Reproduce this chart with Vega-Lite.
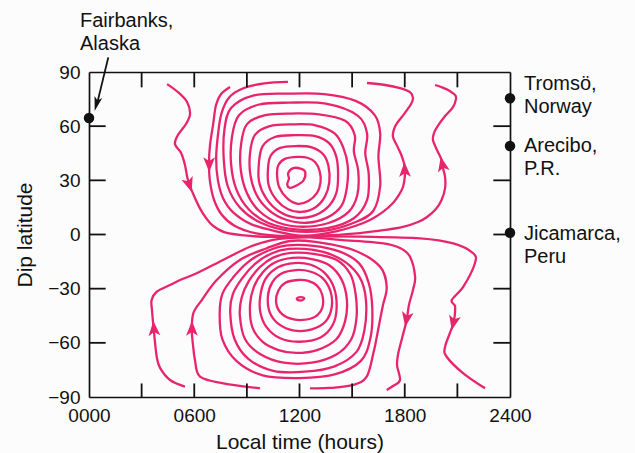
{
  "$schema": "https://vega.github.io/schema/vega-lite/v6.json",
  "width": 421,
  "height": 325,
  "autosize": {"type": "none"},
  "padding": {"left": 89, "top": 72, "right": 125, "bottom": 56},
  "background": "#fcfcfd",
  "config": {
    "view": {"stroke": null},
    "font": "Liberation Sans",
    "axis": {
      "grid": false,
      "domainColor": "#111111",
      "domainWidth": 1.7,
      "tickColor": "#111111",
      "tickWidth": 1.7,
      "labelColor": "#111111",
      "titleColor": "#111111",
      "labelFont": "Liberation Sans",
      "titleFont": "Liberation Sans",
      "labelFontSize": 19,
      "titleFontSize": 21,
      "titleFontWeight": "normal",
      "labelFlush": false,
      "labelOverlap": false
    }
  },
  "datasets": {
    "rings": [
      {"c":"n1","x":11.65,"y":36.8},{"c":"n1","x":12.1,"y":36.3},{"c":"n1","x":12.33,"y":34.5},{"c":"n1","x":12.22,"y":29.8},{"c":"n1","x":11.8,"y":27},{"c":"n1","x":11.46,"y":25.8},{"c":"n1","x":11.3,"y":27.8},{"c":"n1","x":11.4,"y":31},{"c":"n1","x":11.35,"y":34},
      {"c":"n2","x":11.9,"y":43},{"c":"n2","x":11.2,"y":42},{"c":"n2","x":10.8,"y":38.5},{"c":"n2","x":10.72,"y":33},{"c":"n2","x":10.85,"y":26},{"c":"n2","x":11.3,"y":20},{"c":"n2","x":11.9,"y":17},{"c":"n2","x":12.5,"y":18.5},{"c":"n2","x":13.0,"y":23},{"c":"n2","x":13.2,"y":29},{"c":"n2","x":13.15,"y":35},{"c":"n2","x":12.9,"y":40},{"c":"n2","x":12.45,"y":42.5},
      {"c":"n3","x":11.8,"y":49},{"c":"n3","x":10.9,"y":48},{"c":"n3","x":10.35,"y":43.5},{"c":"n3","x":10.2,"y":36},{"c":"n3","x":10.25,"y":27},{"c":"n3","x":10.7,"y":19},{"c":"n3","x":11.35,"y":14},{"c":"n3","x":12.1,"y":12.5},{"c":"n3","x":12.9,"y":15},{"c":"n3","x":13.45,"y":21},{"c":"n3","x":13.7,"y":29},{"c":"n3","x":13.65,"y":38},{"c":"n3","x":13.35,"y":44.5},{"c":"n3","x":12.7,"y":48.3},
      {"c":"n4","x":11.7,"y":55},{"c":"n4","x":10.6,"y":54},{"c":"n4","x":9.9,"y":49},{"c":"n4","x":9.69,"y":40},{"c":"n4","x":9.7,"y":29},{"c":"n4","x":10.1,"y":20},{"c":"n4","x":10.8,"y":13},{"c":"n4","x":11.7,"y":9.5},{"c":"n4","x":12.7,"y":10},{"c":"n4","x":13.6,"y":15},{"c":"n4","x":14.1,"y":23},{"c":"n4","x":14.2,"y":33},{"c":"n4","x":14.1,"y":43},{"c":"n4","x":13.7,"y":50.5},{"c":"n4","x":12.9,"y":54.5},
      {"c":"n5","x":11.6,"y":61},{"c":"n5","x":10.3,"y":60},{"c":"n5","x":9.45,"y":55},{"c":"n5","x":9.18,"y":45},{"c":"n5","x":9.2,"y":33},{"c":"n5","x":9.55,"y":22},{"c":"n5","x":10.25,"y":13.5},{"c":"n5","x":11.2,"y":8.3},{"c":"n5","x":12.4,"y":6.5},{"c":"n5","x":13.6,"y":9.5},{"c":"n5","x":14.4,"y":16},{"c":"n5","x":14.7,"y":26},{"c":"n5","x":14.75,"y":38},{"c":"n5","x":14.5,"y":48},{"c":"n5","x":14.0,"y":56},{"c":"n5","x":12.9,"y":60.5},
      {"c":"n6","x":11.5,"y":67},{"c":"n6","x":10.0,"y":66},{"c":"n6","x":9.0,"y":61},{"c":"n6","x":8.67,"y":50},{"c":"n6","x":8.65,"y":36},{"c":"n6","x":9.0,"y":23},{"c":"n6","x":9.7,"y":13},{"c":"n6","x":10.8,"y":6.5},{"c":"n6","x":12.2,"y":4.3},{"c":"n6","x":13.7,"y":6.5},{"c":"n6","x":14.8,"y":12.5},{"c":"n6","x":15.3,"y":22},{"c":"n6","x":15.35,"y":35},{"c":"n6","x":15.1,"y":46},{"c":"n6","x":15.15,"y":55},{"c":"n6","x":14.6,"y":63},{"c":"n6","x":13.1,"y":66.5},
      {"c":"n7","x":11.4,"y":73},{"c":"n7","x":9.7,"y":72},{"c":"n7","x":8.55,"y":66},{"c":"n7","x":8.15,"y":54},{"c":"n7","x":8.1,"y":39},{"c":"n7","x":8.4,"y":25},{"c":"n7","x":9.1,"y":14},{"c":"n7","x":10.2,"y":6.5},{"c":"n7","x":11.8,"y":2.8},{"c":"n7","x":13.6,"y":3.5},{"c":"n7","x":15.1,"y":9},{"c":"n7","x":15.85,"y":19},{"c":"n7","x":15.95,"y":33},{"c":"n7","x":15.75,"y":45},{"c":"n7","x":15.85,"y":56},{"c":"n7","x":15.3,"y":66},{"c":"n7","x":13.5,"y":72.5},
      {"c":"n8","x":11.3,"y":78},{"c":"n8","x":9.4,"y":77},{"c":"n8","x":8.1,"y":70},{"c":"n8","x":7.72,"y":58},{"c":"n8","x":7.68,"y":42},{"c":"n8","x":7.9,"y":27},{"c":"n8","x":8.6,"y":15},{"c":"n8","x":9.8,"y":6.5},{"c":"n8","x":11.5,"y":2},{"c":"n8","x":13.5,"y":2.2},{"c":"n8","x":15.1,"y":6.5},{"c":"n8","x":16.2,"y":13},{"c":"n8","x":16.6,"y":27},{"c":"n8","x":16.5,"y":43},{"c":"n8","x":16.6,"y":56},{"c":"n8","x":16.3,"y":66},{"c":"n8","x":15.2,"y":74},{"c":"n8","x":13.4,"y":77.8},
      {"c":"s1","x":11.85,"y":-35.4},{"c":"s1","x":12.05,"y":-34.7},{"c":"s1","x":12.27,"y":-35.2},{"c":"s1","x":12.15,"y":-36.4},{"c":"s1","x":11.92,"y":-36.3},
      {"c":"s2","x":11.9,"y":-25.2},{"c":"s2","x":11.2,"y":-26.7},{"c":"s2","x":10.8,"y":-31},{"c":"s2","x":10.66,"y":-37},{"c":"s2","x":10.9,"y":-43},{"c":"s2","x":11.5,"y":-46.6},{"c":"s2","x":12.2,"y":-47.3},{"c":"s2","x":12.9,"y":-45.5},{"c":"s2","x":13.3,"y":-40.5},{"c":"s2","x":13.3,"y":-33.5},{"c":"s2","x":13.0,"y":-28.3},{"c":"s2","x":12.5,"y":-25.7},
      {"c":"s3","x":11.8,"y":-19.7},{"c":"s3","x":11.0,"y":-21.5},{"c":"s3","x":10.45,"y":-26.5},{"c":"s3","x":10.2,"y":-34},{"c":"s3","x":10.3,"y":-43},{"c":"s3","x":10.8,"y":-49.5},{"c":"s3","x":11.7,"y":-53.2},{"c":"s3","x":12.7,"y":-52.5},{"c":"s3","x":13.5,"y":-48},{"c":"s3","x":13.84,"y":-40},{"c":"s3","x":13.75,"y":-31},{"c":"s3","x":13.3,"y":-24},{"c":"s3","x":12.6,"y":-20.5},
      {"c":"s4","x":11.7,"y":-15.8},{"c":"s4","x":10.8,"y":-18},{"c":"s4","x":10.1,"y":-24},{"c":"s4","x":9.8,"y":-32},{"c":"s4","x":9.75,"y":-42},{"c":"s4","x":10.1,"y":-51},{"c":"s4","x":10.9,"y":-57.5},{"c":"s4","x":12.0,"y":-59.4},{"c":"s4","x":13.2,"y":-57},{"c":"s4","x":13.9,"y":-50},{"c":"s4","x":14.12,"y":-40},{"c":"s4","x":13.95,"y":-29},{"c":"s4","x":13.4,"y":-21},{"c":"s4","x":12.6,"y":-16.6},
      {"c":"s5","x":11.6,"y":-13},{"c":"s5","x":10.6,"y":-15.5},{"c":"s5","x":9.9,"y":-21},{"c":"s5","x":9.4,"y":-29},{"c":"s5","x":9.18,"y":-39},{"c":"s5","x":9.3,"y":-51},{"c":"s5","x":9.9,"y":-59.5},{"c":"s5","x":10.8,"y":-64},{"c":"s5","x":11.8,"y":-65.6},{"c":"s5","x":13.0,"y":-64},{"c":"s5","x":14.1,"y":-58},{"c":"s5","x":14.6,"y":-48},{"c":"s5","x":14.7,"y":-36},{"c":"s5","x":14.4,"y":-25},{"c":"s5","x":13.7,"y":-17},{"c":"s5","x":12.7,"y":-13.6},
      {"c":"s6","x":11.5,"y":-10.2},{"c":"s6","x":10.5,"y":-12.8},{"c":"s6","x":9.75,"y":-18},{"c":"s6","x":9.1,"y":-26},{"c":"s6","x":8.7,"y":-35},{"c":"s6","x":8.6,"y":-45},{"c":"s6","x":8.9,"y":-58},{"c":"s6","x":9.8,"y":-66.5},{"c":"s6","x":11.1,"y":-71},{"c":"s6","x":12.7,"y":-71},{"c":"s6","x":14.1,"y":-66.5},{"c":"s6","x":14.95,"y":-58},{"c":"s6","x":15.25,"y":-46},{"c":"s6","x":15.2,"y":-33},{"c":"s6","x":14.9,"y":-22},{"c":"s6","x":14.1,"y":-14},{"c":"s6","x":12.8,"y":-10.7},
      {"c":"s7","x":11.4,"y":-8},{"c":"s7","x":10.4,"y":-10.5},{"c":"s7","x":9.5,"y":-16},{"c":"s7","x":8.75,"y":-24},{"c":"s7","x":8.2,"y":-33},{"c":"s7","x":8.05,"y":-43},{"c":"s7","x":8.3,"y":-58},{"c":"s7","x":9.1,"y":-69},{"c":"s7","x":10.5,"y":-75.5},{"c":"s7","x":12.3,"y":-76},{"c":"s7","x":14.0,"y":-73},{"c":"s7","x":15.25,"y":-65},{"c":"s7","x":15.7,"y":-53},{"c":"s7","x":15.8,"y":-38},{"c":"s7","x":15.55,"y":-26},{"c":"s7","x":14.9,"y":-17.5},{"c":"s7","x":13.9,"y":-11.5},{"c":"s7","x":12.7,"y":-8.4},
      {"c":"s8","x":11.3,"y":-6},{"c":"s8","x":10.2,"y":-9},{"c":"s8","x":9.1,"y":-15},{"c":"s8","x":8.2,"y":-24},{"c":"s8","x":7.6,"y":-33},{"c":"s8","x":7.45,"y":-44},{"c":"s8","x":7.6,"y":-58},{"c":"s8","x":8.4,"y":-70},{"c":"s8","x":9.9,"y":-78},{"c":"s8","x":12.0,"y":-79.5},{"c":"s8","x":14.0,"y":-77.5},{"c":"s8","x":15.5,"y":-70},{"c":"s8","x":16.05,"y":-57},{"c":"s8","x":16.15,"y":-41},{"c":"s8","x":15.95,"y":-27},{"c":"s8","x":15.4,"y":-16},{"c":"s8","x":14.3,"y":-9.5},{"c":"s8","x":12.8,"y":-6.3}
    ],
    "curves": [
      {"c":"a","x":4.45,"y":83.3},{"c":"a","x":5.07,"y":78.9},{"c":"a","x":5.59,"y":73.4},{"c":"a","x":5.76,"y":66.7},{"c":"a","x":5.53,"y":61.2},{"c":"a","x":5.07,"y":55.1},{"c":"a","x":4.9,"y":50.1},{"c":"a","x":5.25,"y":45.1},{"c":"a","x":5.47,"y":38.5},{"c":"a","x":5.64,"y":30.2},{"c":"a","x":5.99,"y":21.3},{"c":"a","x":6.44,"y":12.5},{"c":"a","x":7.01,"y":5.3},{"c":"a","x":7.75,"y":1.2},{"c":"a","x":9.18,"y":-0.8},{"c":"a","x":10.6,"y":-1.3},{"c":"a","x":12.6,"y":-1.0},{"c":"a","x":15.5,"y":-1.2},{"c":"a","x":18.87,"y":-2.1},{"c":"a","x":20.77,"y":-4.9},{"c":"a","x":21.9,"y":-10.4},{"c":"a","x":22.0,"y":-15.9},{"c":"a","x":21.34,"y":-28.9},{"c":"a","x":20.68,"y":-36.3},{"c":"a","x":20.87,"y":-40},{"c":"a","x":20.77,"y":-49.2},{"c":"a","x":20.3,"y":-62.1},{"c":"a","x":20.39,"y":-67.7},{"c":"a","x":21.34,"y":-76.9},{"c":"a","x":22.58,"y":-85.2},
      {"c":"b","x":8.04,"y":81.7},{"c":"b","x":7.53,"y":77.8},{"c":"b","x":7.24,"y":71.7},{"c":"b","x":7.07,"y":60.6},{"c":"b","x":6.9,"y":49.6},{"c":"b","x":6.84,"y":39.6},{"c":"b","x":6.9,"y":29.1},{"c":"b","x":7.13,"y":19.1},{"c":"b","x":7.58,"y":10.8},{"c":"b","x":8.32,"y":4.7},{"c":"b","x":9.46,"y":0.8},{"c":"b","x":11.17,"y":-0.9},{"c":"b","x":12.6,"y":-0.8},{"c":"b","x":13.74,"y":-0.4},{"c":"b","x":15.45,"y":0.8},{"c":"b","x":16.88,"y":2.5},{"c":"b","x":17.9,"y":4.2},{"c":"b","x":18.76,"y":6.9},{"c":"b","x":19.27,"y":9.7},{"c":"b","x":19.78,"y":14.1},{"c":"b","x":20.1,"y":19.1},{"c":"b","x":20.3,"y":25.7},{"c":"b","x":20.3,"y":31.8},{"c":"b","x":20.18,"y":36.8},{"c":"b","x":20.1,"y":41.3},{"c":"b","x":19.84,"y":46.8},{"c":"b","x":19.61,"y":52.3},{"c":"b","x":19.67,"y":56.2},{"c":"b","x":19.84,"y":59.5},{"c":"b","x":20.3,"y":65.6},{"c":"b","x":20.75,"y":70.6},{"c":"b","x":20.92,"y":75},{"c":"b","x":20.87,"y":77.2},{"c":"b","x":20.47,"y":80},{"c":"b","x":20.07,"y":81.7},{"c":"b","x":19.73,"y":82.8},
      {"c":"c","x":11.34,"y":84.5},{"c":"c","x":10.0,"y":83.7},{"c":"c","x":8.8,"y":81},{"c":"c","x":8.0,"y":76},{"c":"c","x":7.55,"y":67},{"c":"c","x":7.35,"y":55},{"c":"c","x":7.25,"y":42},{"c":"c","x":7.35,"y":30},{"c":"c","x":7.65,"y":20},{"c":"c","x":8.25,"y":12},{"c":"c","x":9.3,"y":5.5},{"c":"c","x":10.8,"y":1.5},{"c":"c","x":12.03,"y":-0.6},{"c":"c","x":12.88,"y":-0.3},{"c":"c","x":14.14,"y":1.9},{"c":"c","x":15.17,"y":4.7},{"c":"c","x":16.02,"y":8},{"c":"c","x":16.76,"y":12.5},{"c":"c","x":17.33,"y":17.4},{"c":"c","x":17.67,"y":21.9},{"c":"c","x":17.9,"y":26.3},{"c":"c","x":18.0,"y":31.8},{"c":"c","x":18.0,"y":37.4},{"c":"c","x":17.85,"y":42.9},{"c":"c","x":17.6,"y":48.4},{"c":"c","x":17.33,"y":54},{"c":"c","x":17.39,"y":58.4},{"c":"c","x":17.56,"y":61.7},{"c":"c","x":17.96,"y":66.7},{"c":"c","x":18.36,"y":72.3},{"c":"c","x":18.47,"y":75.6},{"c":"c","x":18.3,"y":78.9},{"c":"c","x":17.73,"y":81.1},{"c":"c","x":16.88,"y":82.8},{"c":"c","x":15.85,"y":83.9},
      {"c":"d","x":5.47,"y":-84.3},{"c":"d","x":4.62,"y":-80.6},{"c":"d","x":4.05,"y":-73.9},{"c":"d","x":3.86,"y":-67.7},{"c":"d","x":3.71,"y":-54.5},{"c":"d","x":3.59,"y":-41.8},{"c":"d","x":3.57,"y":-36.3},{"c":"d","x":3.86,"y":-31.7},{"c":"d","x":4.62,"y":-28},{"c":"d","x":5.19,"y":-25.2},{"c":"d","x":6.14,"y":-21.5},{"c":"d","x":7.64,"y":-14.1},{"c":"d","x":9.18,"y":-6.8},{"c":"d","x":10.49,"y":-3},{"c":"d","x":11.46,"y":-1.9},{"c":"d","x":12.6,"y":-1.6},{"c":"d","x":14.3,"y":-3},{"c":"d","x":16.78,"y":-4.9},{"c":"d","x":17.73,"y":-7.5},{"c":"d","x":18.3,"y":-12.3},{"c":"d","x":18.59,"y":-23.4},{"c":"d","x":18.47,"y":-30.7},{"c":"d","x":18.24,"y":-39},{"c":"d","x":18.11,"y":-47.3},{"c":"d","x":17.85,"y":-57.3},{"c":"d","x":17.63,"y":-65.8},{"c":"d","x":17.56,"y":-72.3},{"c":"d","x":17.73,"y":-80.6},{"c":"d","x":17.33,"y":-83.9},{"c":"d","x":16.97,"y":-86.1},
      {"c":"e","x":9.75,"y":-85.2},{"c":"e","x":7.66,"y":-82.4},{"c":"e","x":6.33,"y":-78.7},{"c":"e","x":6.04,"y":-69.5},{"c":"e","x":5.93,"y":-61.2},{"c":"e","x":5.86,"y":-52.9},{"c":"e","x":5.95,"y":-43.6},{"c":"e","x":6.43,"y":-36.3},{"c":"e","x":7.28,"y":-25.2},{"c":"e","x":8.6,"y":-14.1},{"c":"e","x":10.13,"y":-7.6},{"c":"e","x":11.46,"y":-3.6},{"c":"e","x":12.79,"y":-4},{"c":"e","x":15.07,"y":-8.6},{"c":"e","x":16.59,"y":-17.8},{"c":"e","x":16.97,"y":-28.9},{"c":"e","x":16.76,"y":-39},{"c":"e","x":16.59,"y":-47.3},{"c":"e","x":16.4,"y":-57},{"c":"e","x":16.21,"y":-65.8},{"c":"e","x":15.83,"y":-78.7},{"c":"e","x":15.07,"y":-83.3},{"c":"e","x":13.74,"y":-85},{"c":"e","x":12.6,"y":-85.2}
    ],
    "arrows": [
      {"dir":358,"x":18.0,"y":36},{"dir":348,"x":20.14,"y":39},{"dir":356,"x":3.7,"y":-52},{"dir":0,"x":5.87,"y":-52},
      {"dir":162,"x":5.72,"y":27.5},{"dir":180,"x":6.85,"y":38.7},{"dir":190,"x":18.1,"y":-47},{"dir":193,"x":20.77,"y":-49}
    ],
    "xticks": [{"x":3},{"x":6},{"x":9},{"x":12},{"x":15},{"x":18},{"x":21}],
    "yticks": [{"y":-60},{"y":-30},{"y":0},{"y":30},{"y":60}],
    "stations": [
      {"name":"Fairbanks","x":0,"y":64.5},{"name":"Tromsö","x":24,"y":75.5},{"name":"Arecibo","x":24,"y":49},{"name":"Jicamarca","x":24,"y":1}
    ],
    "rightlabels": [
      {"x":24,"y":80,"t":"Tromsö,\nNorway"},{"x":24,"y":45.7,"t":"Arecibo,\nP.R."},{"x":24,"y":-3,"t":"Jicamarca,\nPeru"}
    ],
    "leftlabels": [
      {"x":0,"y":114.9,"t":"Fairbanks,\nAlaska"}
    ],
    "pointer": [
      {"x":1.1,"y":98.1,"x2":0.5,"y2":74}
    ],
    "pointerhead": [
      {"x":0.43,"y":72.3}
    ]
  },
  "layer": [
    {
      "data": {"name": "rings"},
      "mark": {"type": "line", "interpolate": "cardinal-closed", "color": "#e8256c", "strokeWidth": 2.3},
      "encoding": {
        "x": {"field": "x", "type": "quantitative", "scale": {"domain": [0, 24], "nice": false, "zero": false},
          "axis": {"orient": "bottom", "values": [0, 6, 12, 18, 24], "ticks": false, "labelPadding": 9,
            "labelExpr": "format(datum.value * 100, '04d')", "title": "Local time (hours)", "titlePadding": 6}},
        "y": {"field": "y", "type": "quantitative", "scale": {"domain": [-90, 90], "nice": false, "zero": false},
          "axis": {"orient": "left", "values": [-90, -60, -30, 0, 30, 60, 90], "ticks": false, "labelPadding": 9, "title": "Dip latitude", "titlePadding": 12}},
        "detail": {"field": "c"},
        "order": {"value": null}
      }
    },
    {
      "data": {"name": "curves"},
      "mark": {"type": "line", "interpolate": "cardinal", "color": "#e8256c", "strokeWidth": 2.3},
      "encoding": {
        "x": {"field": "x", "type": "quantitative", "scale": {"domain": [0, 24], "nice": false, "zero": false},
          "axis": {"orient": "top", "ticks": false, "labels": false, "title": null}},
        "y": {"field": "y", "type": "quantitative", "scale": {"domain": [-90, 90], "nice": false, "zero": false},
          "axis": {"orient": "right", "ticks": false, "labels": false, "title": null}},
        "detail": {"field": "c"},
        "order": {"value": null}
      }
    },
    {
      "data": {"name": "xticks"},
      "mark": {"type": "rule", "color": "#111111", "strokeWidth": 1.8},
      "encoding": {
        "x": {"field": "x", "type": "quantitative", "axis": null},
        "y": {"datum": -90, "type": "quantitative", "axis": null},
        "y2": {"datum": -82.5}
      }
    },
    {
      "data": {"name": "xticks"},
      "mark": {"type": "rule", "color": "#111111", "strokeWidth": 1.8},
      "encoding": {
        "x": {"field": "x", "type": "quantitative", "axis": null},
        "y": {"datum": 90, "type": "quantitative", "axis": null},
        "y2": {"datum": 81.5}
      }
    },
    {
      "data": {"name": "yticks"},
      "mark": {"type": "rule", "color": "#111111", "strokeWidth": 1.8},
      "encoding": {
        "y": {"field": "y", "type": "quantitative", "axis": null},
        "x": {"datum": 0, "type": "quantitative", "axis": null},
        "x2": {"datum": 0.95}
      }
    },
    {
      "data": {"name": "yticks"},
      "mark": {"type": "rule", "color": "#111111", "strokeWidth": 1.8},
      "encoding": {
        "y": {"field": "y", "type": "quantitative", "axis": null},
        "x": {"datum": 24, "type": "quantitative", "axis": null},
        "x2": {"datum": 23.05}
      }
    },
    {
      "data": {"name": "arrows"},
      "mark": {"type": "point", "shape": "M0,-1L0.8,1L0,0.5L-0.8,1Z", "filled": true, "color": "#e8256c", "opacity": 1, "size": 220},
      "encoding": {
        "x": {"field": "x", "type": "quantitative", "axis": null},
        "y": {"field": "y", "type": "quantitative", "axis": null},
        "angle": {"field": "dir", "type": "quantitative", "scale": null}
      }
    },
    {
      "data": {"name": "stations"},
      "mark": {"type": "point", "shape": "circle", "filled": true, "color": "#111111", "opacity": 1, "size": 110},
      "encoding": {
        "x": {"field": "x", "type": "quantitative", "axis": null},
        "y": {"field": "y", "type": "quantitative", "axis": null}
      }
    },
    {
      "data": {"name": "rightlabels"},
      "mark": {"type": "text", "align": "left", "baseline": "alphabetic", "dx": 14, "fontSize": 20, "lineBreak": "\n", "lineHeight": 23, "color": "#111111", "font": "Liberation Sans"},
      "encoding": {
        "x": {"field": "x", "type": "quantitative", "axis": null},
        "y": {"field": "y", "type": "quantitative", "axis": null},
        "text": {"field": "t"}
      }
    },
    {
      "data": {"name": "leftlabels"},
      "mark": {"type": "text", "align": "left", "baseline": "alphabetic", "dx": -9, "fontSize": 20, "lineBreak": "\n", "lineHeight": 23, "color": "#111111", "font": "Liberation Sans"},
      "encoding": {
        "x": {"field": "x", "type": "quantitative", "axis": null},
        "y": {"field": "y", "type": "quantitative", "axis": null},
        "text": {"field": "t"}
      }
    },
    {
      "data": {"name": "pointer"},
      "mark": {"type": "rule", "color": "#111111", "strokeWidth": 1.8},
      "encoding": {
        "x": {"field": "x", "type": "quantitative", "axis": null},
        "y": {"field": "y", "type": "quantitative", "axis": null},
        "x2": {"field": "x2"},
        "y2": {"field": "y2"}
      }
    },
    {
      "data": {"name": "pointerhead"},
      "mark": {"type": "point", "shape": "M0,-1L0.55,1L0,0.5L-0.55,1Z", "filled": true, "color": "#111111", "opacity": 1, "size": 210, "angle": 195},
      "encoding": {
        "x": {"field": "x", "type": "quantitative", "axis": null},
        "y": {"field": "y", "type": "quantitative", "axis": null}
      }
    }
  ],
  "resolve": {"axis": {"x": "independent", "y": "independent"}}
}
